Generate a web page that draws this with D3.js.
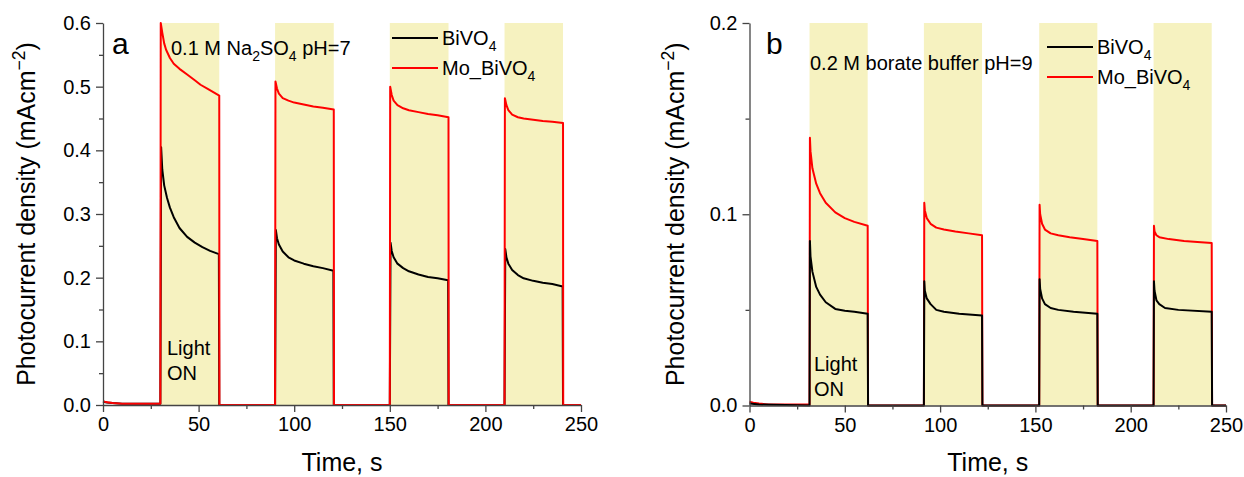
<!DOCTYPE html>
<html>
<head>
<meta charset="utf-8">
<script src="https://cdn.jsdelivr.net/npm/d3@7"></script>
<style>
body { margin: 0; background: #fff; }
text { font-family: "Liberation Sans", Arial, sans-serif; fill: #000; }
</style>
</head>
<body>
<script>
const width = 1244;
const height = 477;

// shared x axis
const timeTicks = [0, 50, 100, 150, 200, 250];
const timeMinor = [25, 75, 125, 175, 225];

// panel a : 0.1 M Na2SO4
const lightA = [[30, 60.8], [90, 120.7], [150, 180.7], [210, 240.6]];
const yTicksA = [0, 0.1, 0.2, 0.3, 0.4, 0.5, 0.6];
const yMinorA = [0.05, 0.15, 0.25, 0.35, 0.45, 0.55];
const moA = [
    [0, 0.006], [1, 0.005], [3, 0.004], [5, 0.003], [10, 0.002], [30, 0.002],
    [30.2, 0.6], [31, 0.585], [32, 0.568], [33, 0.558], [35, 0.545], [37, 0.536], [40, 0.528],
    [44, 0.519], [48, 0.51], [51, 0.503], [55, 0.496], [60.8, 0.486], [60.9, 0], [90, 0],
    [90.2, 0.508], [91, 0.497], [92, 0.489], [94, 0.482], [97, 0.478], [100, 0.475],
    [105, 0.472], [110, 0.469], [115, 0.467], [120.7, 0.464], [120.8, 0], [150, 0],
    [150.2, 0.5], [151, 0.487], [152, 0.478], [154, 0.471], [157, 0.466], [160, 0.463],
    [165, 0.46], [170, 0.457], [175, 0.455], [180.7, 0.452], [180.8, 0], [210, 0],
    [210.2, 0.482], [211, 0.471], [212, 0.463], [214, 0.456], [217, 0.452], [220, 0.45],
    [225, 0.448], [230, 0.446], [235, 0.445], [240.6, 0.443], [240.7, 0], [250, 0]
];
const biA = [
    [0, 0.005], [2, 0.004], [5, 0.003], [10, 0.002], [30, 0.002],
    [30.4, 0.405], [31, 0.37], [32, 0.345], [33.5, 0.325], [35, 0.31], [37, 0.295], [40, 0.278],
    [44, 0.264], [48, 0.255], [52, 0.248], [56, 0.242], [60.6, 0.237], [60.8, 0], [90, 0],
    [90.4, 0.275], [91, 0.262], [92, 0.252], [94, 0.241], [97, 0.232], [100, 0.227],
    [105, 0.222], [110, 0.218], [115, 0.215], [120.5, 0.211], [120.7, 0], [150, 0],
    [150.4, 0.255], [151, 0.242], [152, 0.232], [154, 0.222], [157, 0.215], [160, 0.21],
    [165, 0.205], [170, 0.201], [175, 0.199], [180.5, 0.196], [180.7, 0], [210, 0],
    [210.4, 0.245], [211, 0.232], [212, 0.222], [214, 0.212], [217, 0.204], [220, 0.199],
    [225, 0.195], [230, 0.192], [235, 0.19], [240.4, 0.186], [240.6, 0], [250, 0]
];

// panel b : 0.2 M borate buffer
const lightB = [[31.5, 62], [91.5, 122], [152, 182.5], [212, 242.5]];
const yTicksB = [0, 0.1, 0.2];
const yMinorB = [0.05, 0.15];
const moB = [
    [0, 0.002], [2, 0.0015], [5, 0.001], [10, 0.0005], [31.5, 0.0005],
    [31.7, 0.14], [32, 0.133], [33, 0.124], [35, 0.116], [37, 0.111], [40, 0.106],
    [45, 0.101], [50, 0.098], [55, 0.096], [62, 0.094], [62.2, 0], [91.5, 0],
    [91.7, 0.106], [92, 0.102], [93, 0.098], [95, 0.095], [98, 0.093], [102, 0.092],
    [108, 0.091], [115, 0.09], [122, 0.089], [122.2, 0], [152, 0],
    [152.2, 0.105], [152.5, 0.1], [153.5, 0.095], [155, 0.092], [158, 0.09], [162, 0.089],
    [168, 0.088], [175, 0.087], [182.5, 0.086], [182.7, 0], [212, 0],
    [212.2, 0.094], [212.5, 0.091], [213.5, 0.089], [215, 0.088], [220, 0.087],
    [228, 0.086], [235, 0.0855], [242.5, 0.085], [242.7, 0], [250, 0]
];
const biB = [
    [0, 0.001], [5, 0.0005], [31.5, 0],
    [31.7, 0.086], [32, 0.078], [33, 0.07], [35, 0.062], [37, 0.058], [40, 0.054],
    [45, 0.0505], [50, 0.0495], [55, 0.049], [62, 0.048], [62.2, 0], [91.5, 0],
    [91.7, 0.065], [92, 0.06], [93, 0.056], [95, 0.053], [98, 0.05], [102, 0.049],
    [110, 0.048], [122, 0.047], [122.2, 0], [152, 0],
    [152.2, 0.066], [152.5, 0.061], [153.5, 0.056], [155, 0.053], [158, 0.051], [162, 0.05],
    [170, 0.049], [182.5, 0.048], [182.7, 0], [212, 0],
    [212.2, 0.065], [212.5, 0.06], [213.5, 0.055], [215, 0.053], [218, 0.051],
    [225, 0.05], [242.5, 0.049], [242.7, 0], [250, 0]
];

const svg = d3.select('body')
    .append('svg')
    .attr('width', width)
    .attr('height', height);

// text with sub/superscript pieces
function richText(sel, parts, size) {
    let shift = 0;
    parts.forEach(p => {
        const t = sel.append('tspan').text(p[0]);
        let want = 0;
        if (p[1] === 'sub') want = size * 0.3;
        if (p[1] === 'sup') want = -size * 0.4;
        t.attr('dy', want - shift);
        if (p[1]) t.attr('font-size', size * 0.7);
        shift = want;
    });
}

function drawPanel(o) {
    const x = d3.scaleLinear().domain([0, 250]).range([o.left, o.right]);
    const y = d3.scaleLinear().domain([0, o.ymax]).range([o.bottom, o.top]);
    const g = svg.append('g');

    g.selectAll('rect.light')
        .data(o.light)
        .enter().append('rect')
        .attr('class', 'light')
        .attr('x', d => x(d[0]))
        .attr('width', d => x(d[1]) - x(d[0]))
        .attr('y', y(o.ymax))
        .attr('height', y(0) - y(o.ymax))
        .style('fill', '#f6f2c0');

    const line = d3.line().x(d => x(d[0])).y(d => y(d[1]));
    o.series.forEach(s => {
        g.append('path')
            .datum(s.data)
            .attr('d', line)
            .style('fill', 'none')
            .style('stroke', s.color)
            .style('stroke-width', 2)
            .style('stroke-linejoin', 'round');
    });

    // axes
    const xAxis = g.append('g')
        .attr('transform', `translate(0,${o.bottom})`)
        .call(d3.axisBottom(x).tickValues(timeTicks).tickSize(7).tickSizeOuter(0).tickPadding(5));
    g.append('g')
        .attr('transform', `translate(0,${o.bottom})`)
        .call(d3.axisBottom(x).tickValues(timeMinor).tickSize(4).tickFormat(''))
        .select('.domain').remove();
    const yAxis = g.append('g')
        .attr('transform', `translate(${o.left},0)`)
        .call(d3.axisLeft(y).tickValues(o.yTicks).tickSize(7).tickSizeOuter(0).tickPadding(5).tickFormat(d3.format('.1f')));
    g.append('g')
        .attr('transform', `translate(${o.left},0)`)
        .call(d3.axisLeft(y).tickValues(o.yMinor).tickSize(4).tickFormat(''))
        .select('.domain').remove();

    g.selectAll('.domain, .tick line').style('stroke', '#444').style('stroke-width', 1.3);
    [xAxis, yAxis].forEach(a => a.selectAll('text')
        .attr('font-size', 20)
        .style('font-family', '"Liberation Sans", Arial, sans-serif')
        .style('fill', '#000'));

    // axis titles
    g.append('text')
        .attr('x', (o.left + o.right) / 2)
        .attr('y', 471)
        .attr('text-anchor', 'middle')
        .attr('font-size', 25)
        .text('Time, s');
    const yt = g.append('text')
        .attr('transform', `translate(${o.titleX},${(o.top + o.bottom) / 2}) rotate(-90)`)
        .attr('text-anchor', 'middle')
        .attr('font-size', 25);
    richText(yt, [['Photocurrent density (mAcm'], ['\u22122', 'sup'], [')']], 25);

    // panel letter
    g.append('text')
        .attr('x', o.letterX)
        .attr('y', 54)
        .attr('font-size', 30)
        .text(o.letter);

    // electrolyte note
    const note = g.append('text')
        .attr('x', o.noteX)
        .attr('y', o.noteY)
        .attr('font-size', 20);
    richText(note, o.note, 20);

    // legend
    o.series.slice().sort((a, b) => a.order - b.order).forEach((s, i) => {
        const ly = o.legendY + i * 30;
        g.append('line')
            .attr('x1', o.legendX).attr('x2', o.legendX + 46)
            .attr('y1', ly).attr('y2', ly)
            .style('stroke', s.color).style('stroke-width', 2);
        const lt = g.append('text')
            .attr('x', o.legendX + 50)
            .attr('y', ly + 7)
            .attr('font-size', 20);
        richText(lt, s.label, 20);
    });

    // light on
    g.append('text').attr('x', o.lightX).attr('y', o.lightY).attr('font-size', 20).text('Light');
    g.append('text').attr('x', o.lightX).attr('y', o.lightY + 25).attr('font-size', 20).text('ON');
}

drawPanel({
    left: 103, right: 581, top: 23, bottom: 405, ymax: 0.6,
    yTicks: yTicksA, yMinor: yMinorA, light: lightA,
    series: [
        { data: biA, color: '#000', label: [['BiVO'], ['4', 'sub']], order: 0 },
        { data: moA, color: '#ff0000', label: [['Mo_BiVO'], ['4', 'sub']], order: 1 }
    ],
    titleX: 35, letter: 'a', letterX: 112,
    note: [['0.1 M Na'], ['2', 'sub'], ['SO'], ['4', 'sub'], [' pH=7']], noteX: 171, noteY: 55,
    legendX: 392, legendY: 38, lightX: 167, lightY: 355
});

drawPanel({
    left: 749.5, right: 1226, top: 23, bottom: 405.5, ymax: 0.2,
    yTicks: yTicksB, yMinor: yMinorB, light: lightB,
    series: [
        { data: moB, color: '#ff0000', label: [['Mo_BiVO'], ['4', 'sub']], order: 1 },
        { data: biB, color: '#000', label: [['BiVO'], ['4', 'sub']], order: 0 }
    ],
    titleX: 684, letter: 'b', letterX: 766,
    note: [['0.2 M borate buffer pH=9']], noteX: 810, noteY: 70,
    legendX: 1047, legendY: 47, lightX: 814, lightY: 371
});
</script>
</body>
</html>
